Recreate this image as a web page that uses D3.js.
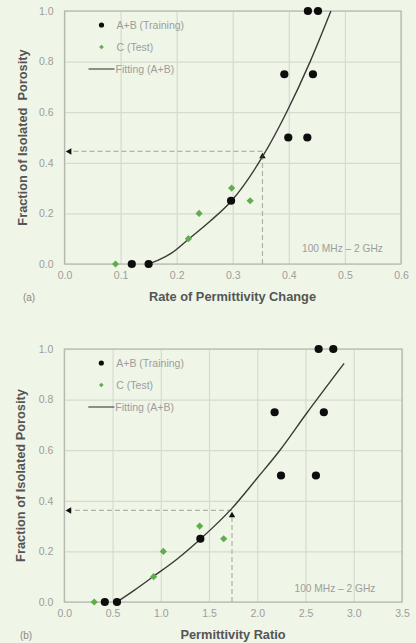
<!DOCTYPE html>
<html>
<head>
<meta charset="utf-8">
<script src="https://cdn.jsdelivr.net/npm/d3@7"></script>
<style>
  html, body { margin: 0; padding: 0; background: #eff5e7; }
  svg { display: block; font-family: "Liberation Sans", Arial, sans-serif; }
</style>
</head>
<body>
<svg id="chart" width="416" height="643"></svg>
<script>
// ---- Panel (a): rate of permittivity change ----
const aTrainX = [0.12, 0.15, 0.297, 0.392, 0.443, 0.399, 0.433, 0.434, 0.452];
const aTrainY = [0, 0, 0.25, 0.75, 0.75, 0.5, 0.5, 1.0, 1.0];
const aTestX = [0.091, 0.221, 0.240, 0.298, 0.331];
const aTestY = [0, 0.1, 0.2, 0.3, 0.25];
const aFitX = [0.15, 0.17, 0.19, 0.221, 0.26, 0.298, 0.353, 0.396, 0.438, 0.475];
const aFitY = [0, 0.018, 0.042, 0.098, 0.17, 0.25, 0.424, 0.6, 0.8, 1.0];
const aGuide = [0.353, 0.445];
const aXTicks = [0, 0.1, 0.2, 0.3, 0.4, 0.5, 0.6];

// ---- Panel (b): permittivity ratio ----
const bTrainX = [0.42, 0.546, 1.41, 2.18, 2.69, 2.246, 2.608, 2.636, 2.788];
const bTrainY = [0, 0, 0.25, 0.75, 0.75, 0.5, 0.5, 1.0, 1.0];
const bTestX = [0.31, 0.926, 1.026, 1.403, 1.652];
const bTestY = [0, 0.1, 0.2, 0.3, 0.25];
const bFitX = [0.545, 0.72, 0.92, 1.17, 1.42, 1.73, 2.0, 2.235, 2.51, 2.9];
const bFitY = [0, 0.045, 0.1, 0.17, 0.252, 0.367, 0.49, 0.6, 0.745, 0.943];
const bGuide = [1.738, 0.362];
const bXTicks = [0, 0.5, 1.0, 1.5, 2.0, 2.5, 3.0, 3.5];

const yTicks = [0, 0.2, 0.4, 0.6, 0.8, 1.0];
const legendLabels = ["A+B (Training)", "C (Test)", "Fitting (A+B)"];
const bandLabel = "100 MHz \u2013 2 GHz";

const svg = d3.select("#chart");
const GREEN = "#5fae4c";
const GRID = "#d6dbd0";
const FRAME = "#b4b7b0";
const TICKTXT = "#9d9d9d";
const GUIDE = "#b0b2ad";

function panel(o) {
  const g = svg.append("g");
  const x = d3.scaleLinear().domain(o.xDomain).range([o.left, o.right]);
  const y = d3.scaleLinear().domain([0, 1]).range([o.bottom, o.top]);

  // grid
  g.append("g").attr("transform", `translate(0,${o.bottom})`)
    .call(d3.axisBottom(x).tickValues(o.xTicks).tickSize(-(o.bottom - o.top)).tickFormat(""))
    .call(s => s.select(".domain").remove())
    .call(s => s.selectAll("line").attr("stroke", GRID).attr("stroke-width", 1.2));
  g.append("g").attr("transform", `translate(${o.left},0)`)
    .call(d3.axisLeft(y).tickValues(yTicks).tickSize(-(o.right - o.left)).tickFormat(""))
    .call(s => s.select(".domain").remove())
    .call(s => s.selectAll("line").attr("stroke", GRID).attr("stroke-width", 1.2));

  // frame
  g.append("rect").attr("x", o.left).attr("y", o.top)
    .attr("width", o.right - o.left).attr("height", o.bottom - o.top)
    .attr("fill", "none").attr("stroke", FRAME).attr("stroke-width", 1.2);

  // tick labels
  const xa = g.append("g").attr("transform", `translate(0,${o.bottom})`)
    .call(d3.axisBottom(x).tickValues(o.xTicks).tickSize(0).tickPadding(8).tickFormat(d3.format(".1f")));
  const ya = g.append("g").attr("transform", `translate(${o.left},0)`)
    .call(d3.axisLeft(y).tickValues(yTicks).tickSize(0).tickPadding(11).tickFormat(d3.format(".1f")));
  [xa, ya].forEach(a => {
    a.select(".domain").remove();
    a.selectAll("text").attr("fill", TICKTXT).attr("font-size", 10.5)
      .attr("font-family", "Liberation Sans, Arial, sans-serif");
  });

  // guide lines
  const [gx, gy] = o.guide;
  g.append("line").attr("x1", x(gx)).attr("x2", x(gx)).attr("y1", y(0)).attr("y2", y(gy) + 4)
    .attr("stroke", GUIDE).attr("stroke-width", 1.2).attr("stroke-dasharray", "5,3");
  g.append("line").attr("x1", x(gx)).attr("x2", o.left + 7).attr("y1", y(gy)).attr("y2", y(gy))
    .attr("stroke", GUIDE).attr("stroke-width", 1.2).attr("stroke-dasharray", "5,3");
  const tri = d3.symbol().type(d3.symbolTriangle).size(18);
  g.append("path").attr("d", tri()).attr("fill", "#111")
    .attr("transform", `translate(${x(gx)},${y(gy) + 5})`);
  g.append("path").attr("d", tri()).attr("fill", "#111")
    .attr("transform", `translate(${o.left + 5},${y(gy)}) rotate(-90)`);

  // fitted curve
  const fit = o.fitX.map((d, i) => [d, o.fitY[i]]);
  g.append("path").datum(fit)
    .attr("d", d3.line().x(d => x(d[0])).y(d => y(d[1])).curve(d3.curveMonotoneX))
    .attr("fill", "none").attr("stroke", "#3a3a3a").attr("stroke-width", 1.4);

  // test points (square diamonds)
  const diamond = d3.symbol().type(d3.symbolSquare).size(26);
  g.append("g").selectAll("path").data(o.testX.map((d, i) => [d, o.testY[i]])).join("path")
    .attr("d", diamond()).attr("fill", GREEN)
    .attr("transform", d => `translate(${x(d[0])},${y(d[1])}) rotate(45)`);

  // training points
  g.append("g").selectAll("circle").data(o.trainX.map((d, i) => [d, o.trainY[i]])).join("circle")
    .attr("cx", d => x(d[0])).attr("cy", d => y(d[1])).attr("r", 4.1).attr("fill", "#0d0d0d");

  // legend
  const lx = o.left + 37, ly = o.top + 14;
  g.append("circle").attr("cx", lx).attr("cy", ly).attr("r", 2.6).attr("fill", "#0d0d0d");
  g.append("path").attr("d", d3.symbol().type(d3.symbolSquare).size(11)())
    .attr("fill", GREEN).attr("transform", `translate(${lx},${ly + 22}) rotate(45)`);
  g.append("line").attr("x1", lx - 13).attr("x2", lx + 13).attr("y1", ly + 44).attr("y2", ly + 44)
    .attr("stroke", "#555").attr("stroke-width", 1.3);
  legendLabels.forEach((t, i) => {
    g.append("text").attr("x", lx + 15 - (i === 2 ? 1 : 0)).attr("y", ly + 22 * i)
      .attr("dy", "0.35em").attr("font-size", 10.5).attr("fill", TICKTXT).text(t);
  });

  // frequency band note
  g.append("text").attr("x", o.bandX).attr("y", o.bandY).attr("dy", "0.35em")
    .attr("font-size", 10.2).attr("fill", TICKTXT).text(bandLabel);

  // axis titles
  g.append("text").attr("x", o.titleX).attr("y", o.titleY).attr("dy", "0.35em")
    .attr("text-anchor", "middle").attr("font-size", 12.8).attr("font-weight", "bold")
    .attr("fill", "#555").text(o.xTitle);
  g.append("text").attr("transform", `translate(${o.yTitleX},${(o.top + o.bottom) / 2}) rotate(-90)`)
    .attr("dy", "0.35em").attr("text-anchor", "middle").attr("font-size", 12.8)
    .attr("font-weight", "bold").attr("fill", "#555").attr("xml:space", "preserve")
    .style("white-space", "pre").text(o.yTitle);

  // panel tag
  g.append("text").attr("x", o.tagX).attr("y", o.titleY).attr("dy", "0.35em")
    .attr("text-anchor", "middle").attr("font-size", 10).attr("fill", "#888").text(o.tag);
}

panel({
  xDomain: [0, 0.6], xTicks: aXTicks,
  left: 64.5, right: 401, top: 11, bottom: 264,
  trainX: aTrainX, trainY: aTrainY, testX: aTestX, testY: aTestY,
  fitX: aFitX, fitY: aFitY, guide: aGuide,
  bandX: 302, bandY: 248,
  xTitle: "Rate of Permittivity Change", titleX: 232.5, titleY: 297,
  yTitle: "Fraction of Isolated  Porosity", yTitleX: 23,
  tag: "(a)", tagX: 29
});

panel({
  xDomain: [0, 3.5], xTicks: bXTicks,
  left: 64.3, right: 402, top: 349, bottom: 602,
  trainX: bTrainX, trainY: bTrainY, testX: bTestX, testY: bTestY,
  fitX: bFitX, fitY: bFitY, guide: bGuide,
  bandX: 294.5, bandY: 588,
  xTitle: "Permittivity Ratio", titleX: 233, titleY: 635,
  yTitle: "Fraction of Isolated Porosity", yTitleX: 21,
  tag: "(b)", tagX: 26
});
</script>
</body>
</html>
